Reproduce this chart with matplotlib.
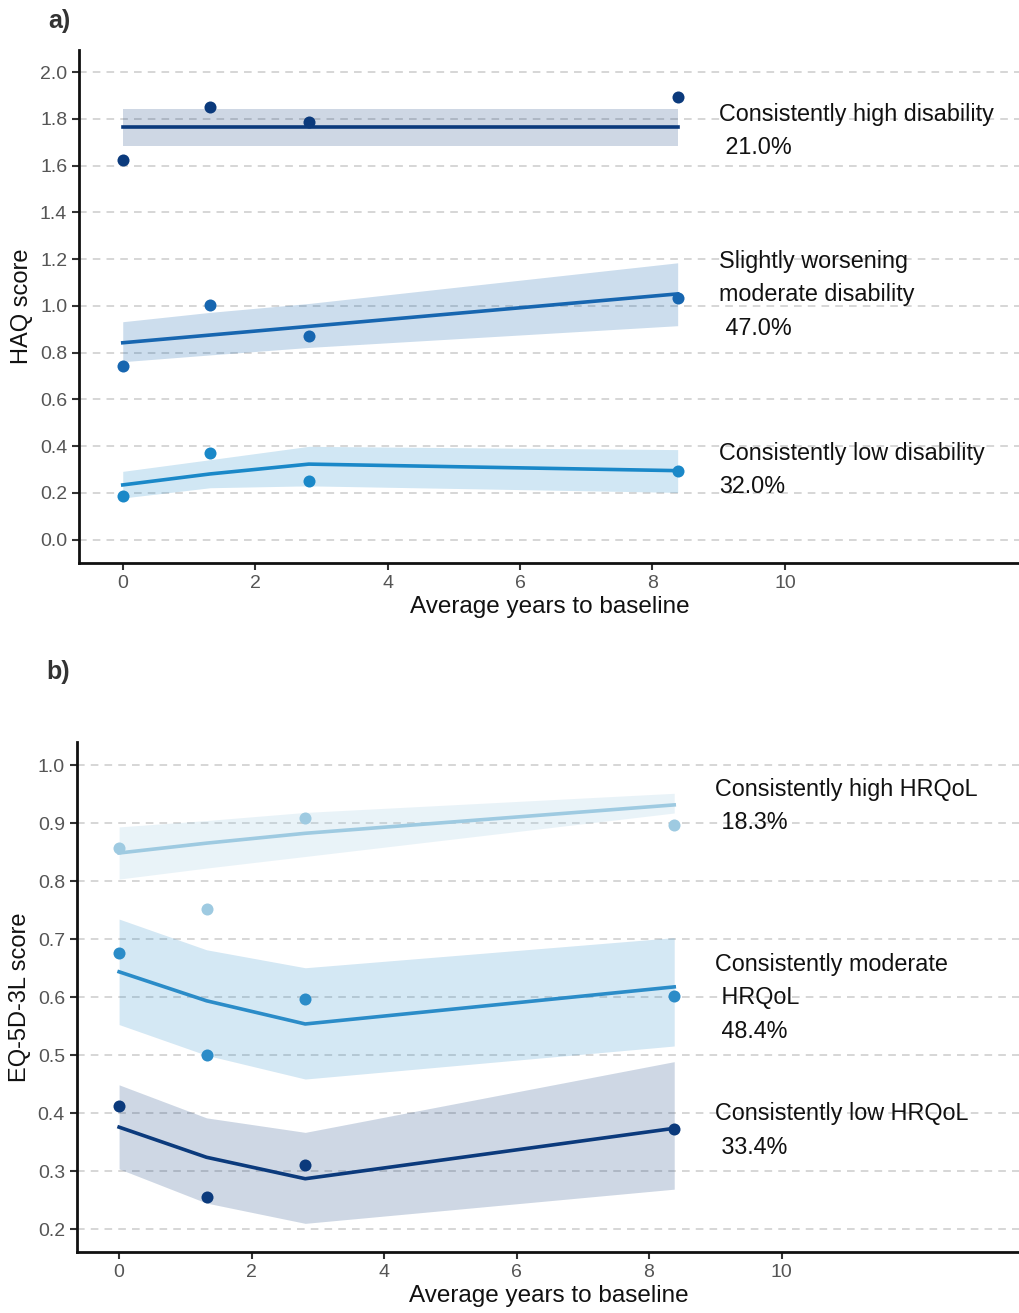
import matplotlib.pyplot as plt

plt.rcParams['font.family'] = ['Liberation Sans', 'DejaVu Sans']

# Average years to baseline for the four assessment waves
years = [0.0, 1.32, 2.81, 8.38]

# a) HAQ trajectories
haq_groups = ['Consistently high disability\n 21.0%',
              'Slightly worsening\nmoderate disability\n 47.0%',
              'Consistently low disability\n32.0%']
haq_colors = ['#0b3a7c', '#1766b0', '#1a88c8']
haq_obs = [[1.624, 1.850, 1.786, 1.893],
           [0.744, 1.004, 0.872, 1.034],
           [0.188, 0.372, 0.249, 0.295]]
haq_fit = [[1.765, 1.765, 1.765, 1.765],
           [0.842, 0.875, 0.912, 1.051],
           [0.234, 0.281, 0.323, 0.295]]
haq_lo = [[1.684, 1.684, 1.684, 1.684],
          [0.761, 0.790, 0.822, 0.915],
          [0.178, 0.222, 0.230, 0.202]]
haq_hi = [[1.840, 1.840, 1.840, 1.840],
          [0.932, 0.972, 1.010, 1.184],
          [0.292, 0.342, 0.399, 0.385]]
haq_label_y = [1.748, 1.047, 0.297]

# b) EQ-5D-3L trajectories
eq_groups = ['Consistently high HRQoL\n 18.3%',
             'Consistently moderate\n HRQoL\n 48.4%',
             'Consistently low HRQoL\n 33.4%']
eq_colors = ['#9ecae1', '#2b8cc8', '#0b3a7c']
eq_obs = [[0.857, 0.752, 0.910, 0.898],
          [0.677, 0.501, 0.597, 0.603],
          [0.412, 0.256, 0.310, 0.373]]
eq_fit = [[0.849, 0.866, 0.883, 0.932],
          [0.644, 0.594, 0.554, 0.618],
          [0.376, 0.324, 0.287, 0.374]]
eq_lo = [[0.804, 0.823, 0.843, 0.918],
         [0.553, 0.500, 0.459, 0.516],
         [0.304, 0.245, 0.210, 0.269]]
eq_hi = [[0.894, 0.905, 0.919, 0.952],
         [0.735, 0.682, 0.651, 0.703],
         [0.449, 0.392, 0.367, 0.489]]
eq_label_y = [0.930, 0.599, 0.370]

band_alpha = [[0.2, 0.22, 0.2], [0.22, 0.2, 0.2]]


def draw_panel(ax, obs, fit, lo, hi, colors, groups, label_y, ylim, yticks, ylabel, alphas):
    for k in range(len(groups)):
        ax.fill_between(years, lo[k], hi[k], color=colors[k], alpha=alphas[k],
                        linewidth=0, zorder=1)
        ax.plot(years, fit[k], color=colors[k], linewidth=2.6, zorder=3)
        ax.scatter(years, obs[k], s=75, color=colors[k], zorder=4, linewidths=0)
        ax.text(9.0, label_y[k], groups[k], ha='left', va='center', fontsize=16.8,
                color='#111111', linespacing=1.58, zorder=5)

    ax.set_xlim(-0.66, 13.55)
    ax.set_ylim(*ylim)
    ax.set_xticks([0, 2, 4, 6, 8, 10])
    ax.set_yticks(yticks)
    ax.set_yticklabels([f'{t:.1f}' for t in yticks])
    ax.yaxis.grid(True, linestyle=(0, (5, 4)), color='#cccccc', linewidth=1.1, zorder=0)
    ax.set_axisbelow(True)
    for side in ['top', 'right']:
        ax.spines[side].set_visible(False)
    for side in ['left', 'bottom']:
        ax.spines[side].set_linewidth(2.0)
        ax.spines[side].set_color('#111111')
    ax.tick_params(axis='both', labelsize=14, labelcolor='#555555', color='#333333',
                   width=1.5, length=5)
    ax.set_xlabel('Average years to baseline', fontsize=17.5, color='#111111', labelpad=3)
    ax.set_ylabel(ylabel, fontsize=17, color='#111111', labelpad=5)


fig = plt.figure(figsize=(10.2, 13.13), dpi=100)
ax_a = fig.add_axes([0.0775, 0.5712, 0.9225, 0.3907])
ax_b = fig.add_axes([0.0752, 0.0462, 0.9248, 0.3889])

draw_panel(ax_a, haq_obs, haq_fit, haq_lo, haq_hi, haq_colors, haq_groups, haq_label_y,
           (-0.1, 2.094), [0.0, 0.2, 0.4, 0.6, 0.8, 1.0, 1.2, 1.4, 1.6, 1.8, 2.0],
           'HAQ score', band_alpha[0])
draw_panel(ax_b, eq_obs, eq_fit, eq_lo, eq_hi, eq_colors, eq_groups, eq_label_y,
           (0.16, 1.041), [0.2, 0.3, 0.4, 0.5, 0.6, 0.7, 0.8, 0.9, 1.0],
           'EQ-5D-3L score', band_alpha[1])
ax_b.set_xlim(-0.64, 13.6)

fig.text(0.047, 0.984, 'a)', fontsize=18, fontweight='bold', color='#333333', va='center')
fig.text(0.045, 0.488, 'b)', fontsize=18, fontweight='bold', color='#333333', va='center')

fig.savefig('out.png', dpi=100)
